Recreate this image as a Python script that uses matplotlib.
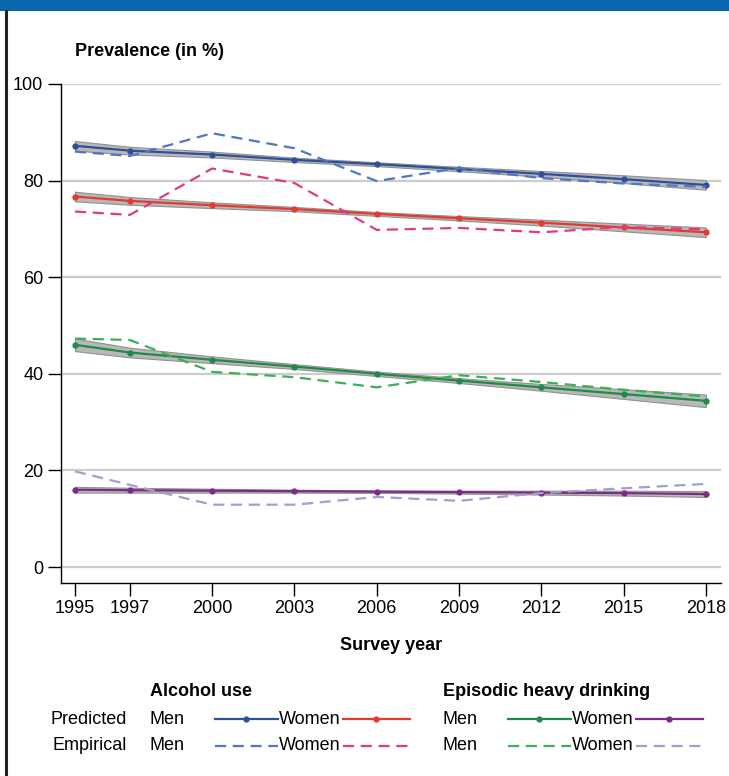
import matplotlib
matplotlib.use("Agg")
import matplotlib.pyplot as plt
from matplotlib.patches import Rectangle

plt.rcParams['font.family'] = ['Liberation Sans Narrow', 'Liberation Sans', 'DejaVu Sans']

years = [1995, 1997, 2000, 2003, 2006, 2009, 2012, 2015, 2018]

# predicted trends (with confidence band half-widths)
alc_men_pred = [87.2, 86.2, 85.4, 84.3, 83.4, 82.4, 81.4, 80.3, 79.1]
alc_women_pred = [76.7, 75.8, 74.9, 74.1, 73.1, 72.2, 71.3, 70.3, 69.3]
ehd_men_pred = [46.0, 44.4, 42.9, 41.5, 40.0, 38.6, 37.2, 35.8, 34.4]
ehd_women_pred = [16.0, 15.9, 15.8, 15.7, 15.6, 15.5, 15.4, 15.3, 15.1]

alc_men_ci = [1.0, 0.8, 0.6, 0.45, 0.4, 0.45, 0.6, 0.8, 1.0]
alc_women_ci = [1.0, 0.8, 0.6, 0.45, 0.4, 0.45, 0.6, 0.8, 1.0]
ehd_men_ci = [1.3, 1.0, 0.7, 0.5, 0.45, 0.5, 0.7, 1.0, 1.3]
ehd_women_ci = [0.6, 0.5, 0.4, 0.3, 0.25, 0.3, 0.4, 0.5, 0.6]

# observed prevalences
alc_men_emp = [86.0, 85.1, 89.8, 86.7, 79.9, 82.6, 80.5, 79.4, 78.7]
alc_women_emp = [73.6, 72.9, 82.5, 79.5, 69.8, 70.2, 69.3, 70.4, 69.9]
ehd_men_emp = [47.3, 47.0, 40.4, 39.3, 37.2, 39.7, 38.3, 36.7, 35.3]
ehd_women_emp = [19.8, 17.0, 12.9, 12.9, 14.5, 13.7, 15.3, 16.3, 17.2]

year_ticks = years
y_ticks = [0, 20, 40, 60, 80, 100]

blue, red, green, purple = '#2d4f9e', '#e53b2e', '#1f8a49', '#7d2b85'
blue_d, pink_d, green_d, lav_d = '#4f78c2', '#e23a80', '#3fae55', '#a09fcf'

fig = plt.figure(figsize=(7.29, 7.76), dpi=100)
ax = fig.add_axes([60.7 / 729, 1 - 582.7 / 776, (721 - 60.7) / 729, (582.7 - 84) / 776])

series = [
    (alc_men_pred, alc_men_ci, alc_men_emp, blue, blue_d),
    (alc_women_pred, alc_women_ci, alc_women_emp, red, pink_d),
    (ehd_men_pred, ehd_men_ci, ehd_men_emp, green, green_d),
    (ehd_women_pred, ehd_women_ci, ehd_women_emp, purple, lav_d),
]

for pred, ci, emp, c_pred, c_emp in series:
    lo = [p - h for p, h in zip(pred, ci)]
    hi = [p + h for p, h in zip(pred, ci)]
    ax.fill_between(years, lo, hi, facecolor='#b8b8b8', edgecolor='#919191',
                    lw=0.8, zorder=2)
    ax.plot(years, pred, color=c_pred, lw=1.6, marker='o', ms=3.5, zorder=3)
    ax.plot(years, emp, color=c_emp, lw=1.6, dashes=(5, 3), zorder=4)

ax.set_xlim(1994.48, 2018.55)
ax.set_ylim(-3.25, 100)
ax.set_xticks(year_ticks)
ax.set_yticks(y_ticks)
ax.tick_params(axis='both', direction='out', length=9.5, width=1.0,
               labelsize=13, pad=3)
ax.yaxis.grid(True, color='#cccccc', lw=1.6)
ax.set_axisbelow(True)
for s in ['top', 'right']:
    ax.spines[s].set_visible(False)
for s in ['left', 'bottom']:
    ax.spines[s].set_linewidth(1.0)

ax.set_xlabel('Survey year', fontsize=13, fontweight='bold', labelpad=14)

# overlay in pixel coordinates for header, frame and legend
ov = fig.add_axes([0, 0, 1, 1], facecolor='none')
ov.set_xlim(0, 729)
ov.set_ylim(776, 0)
ov.axis('off')

ov.add_patch(Rectangle((0, 0), 729, 11, color='#0a66ad', lw=0))
ov.plot([6, 6], [11, 776], color='#222222', lw=2.2)

ov.text(75, 52, 'Prevalence (in %)', fontsize=13, fontweight='bold',
        va='center', ha='left')

fs = 13
ov.text(150, 692, 'Alcohol use', fontsize=fs, fontweight='bold', va='center')
ov.text(443, 692, 'Episodic heavy drinking', fontsize=fs, fontweight='bold', va='center')

rows = [(719, 'Predicted', True), (746, 'Empirical', False)]
for y, lab, solid in rows:
    ov.text(127, y, lab, fontsize=fs, va='center', ha='right')
    for x0, cols in [(150, (blue, red) if solid else (blue_d, pink_d)),
                     (443, (green, purple) if solid else (green_d, lav_d))]:
        ov.text(x0, y, 'Men', fontsize=fs, va='center')
        ov.text(x0 + 191, y, 'Women', fontsize=fs, va='center', ha='right')
        for (a, b), c in zip([(x0 + 65, x0 + 128), (x0 + 193, x0 + 260)], cols):
            if solid:
                ov.plot([a, b], [y, y], color=c, lw=1.6)
                ov.plot([(a + b) / 2], [y], color=c, marker='o', ms=3.5)
            else:
                ov.plot([a, b], [y, y], color=c, lw=1.6, dashes=(5, 3))

fig.savefig('out.png', dpi=100)
